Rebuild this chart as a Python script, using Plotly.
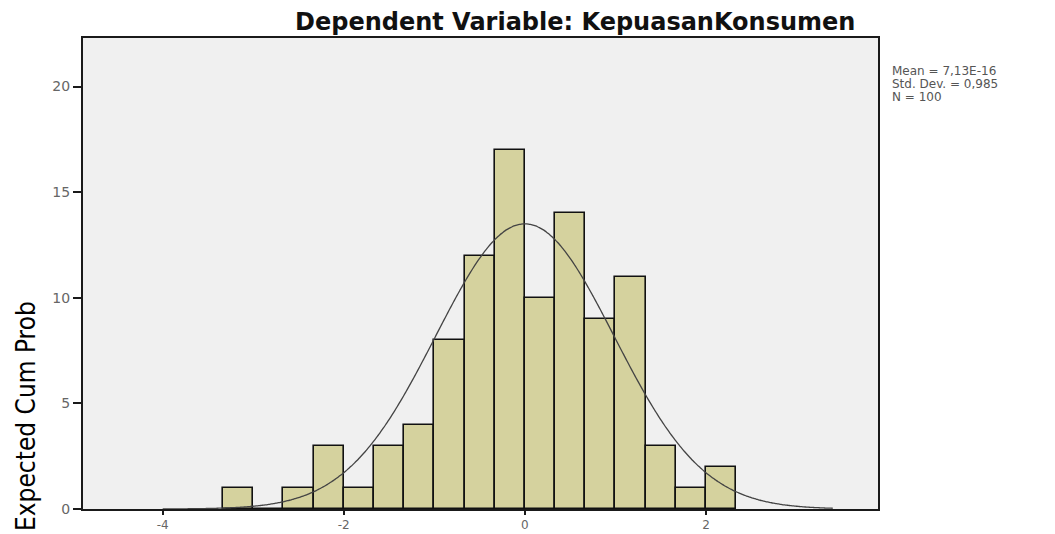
import math
import plotly.graph_objects as go

# ---- Histogram data (regression standardized residual) ----
BIN_START = -10 / 3
BIN_WIDTH = 1 / 3
COUNTS = [1, 0, 1, 3, 1, 3, 4, 8, 12, 17, 10, 14, 9, 11, 3, 1, 2]

MEAN = 7.13e-16
STD_DEV = 0.985
N = 100

X_TICKS = [-4, -2, 0, 2]
Y_TICKS = [0, 5, 10, 15, 20]

TITLE = "Dependent Variable: KepuasanKonsumen"
STATS_LINES = ["Mean = 7,13E-16", "Std. Dev. = 0,985", "N = 100"]
Y_TITLE = "Expected Cum Prob"

COLOR_BAR = "#D5D29E"
COLOR_PLOT_BG = "#F0F0F0"
COLOR_LINE = "#1A1A1A"
COLOR_TICK = "#666666"

bin_centers = [BIN_START + BIN_WIDTH * (i + 0.5) for i in range(len(COUNTS))]

# normal curve scaled to the histogram (N * bin width * pdf)
curve_x = [-4.0 + 0.02 * i for i in range(int((3.4 + 4.0) / 0.02) + 1)]
scale = N * BIN_WIDTH / (STD_DEV * math.sqrt(2 * math.pi))
curve_y = [scale * math.exp(-0.5 * ((x - MEAN) / STD_DEV) ** 2) for x in curve_x]

fig = go.Figure()
fig.add_trace(go.Bar(
    x=bin_centers, y=COUNTS,
    width=BIN_WIDTH,
    marker=dict(color=COLOR_BAR, line=dict(color="#111111", width=1.6)),
    showlegend=False,
))
fig.add_trace(go.Scatter(
    x=curve_x, y=curve_y,
    mode="lines",
    line=dict(color="#444444", width=1.3, shape="spline"),
    showlegend=False,
))

# page body has an 8px margin, so the figure is sized/offset for that
fig.update_layout(
    width=1047, height=526,
    paper_bgcolor="white",
    plot_bgcolor=COLOR_PLOT_BG,
    margin=dict(l=75, r=177, t=30, b=25),
    bargap=0,
    font=dict(family="DejaVu Sans", color=COLOR_TICK),
)
fig.update_xaxes(
    range=[-4.88, 3.90],
    tickvals=X_TICKS,
    ticktext=[str(t) for t in X_TICKS],
    showgrid=False, zeroline=False, automargin=False,
    showline=True, mirror=True, linecolor=COLOR_LINE, linewidth=2,
    ticks="outside", ticklen=4, tickcolor=COLOR_LINE, tickwidth=2,
    tickfont=dict(size=12, color=COLOR_TICK, family="DejaVu Sans"),
)
fig.update_yaxes(
    range=[0, 22.3],
    tickvals=Y_TICKS,
    showgrid=False, zeroline=False, automargin=False,
    showline=True, mirror=True, linecolor=COLOR_LINE, linewidth=2,
    ticks="outside", ticklen=8, tickcolor=COLOR_LINE, tickwidth=2,
    tickfont=dict(size=14, color=COLOR_TICK, family="DejaVu Sans"),
)

# title (SPSS-style, above the frame)
fig.add_annotation(
    text="<b>" + TITLE + "</b>",
    xref="paper", yref="paper", x=0.619, y=1,
    xanchor="center", yanchor="bottom", yshift=0,
    showarrow=False,
    font=dict(family="DejaVu Sans", size=24, color="#111111"),
)

# stats box on the right
for i, line in enumerate(STATS_LINES):
    fig.add_annotation(
        text=line,
        xref="paper", yref="paper", x=1, y=1,
        xanchor="left", yanchor="top",
        xshift=12, yshift=-24 - 13 * i,
        showarrow=False,
        font=dict(family="DejaVu Sans", size=12, color="#555555"),
    )

# big axis caption on the left edge
fig.add_annotation(
    text=Y_TITLE,
    xref="paper", yref="paper", x=0, y=0,
    xanchor="center", yanchor="middle",
    xshift=-57, yshift=93,
    textangle=-90,
    showarrow=False,
    font=dict(family="DejaVu Sans Condensed", size=26, color="#000000"),
)

fig.write_html("out.html")
